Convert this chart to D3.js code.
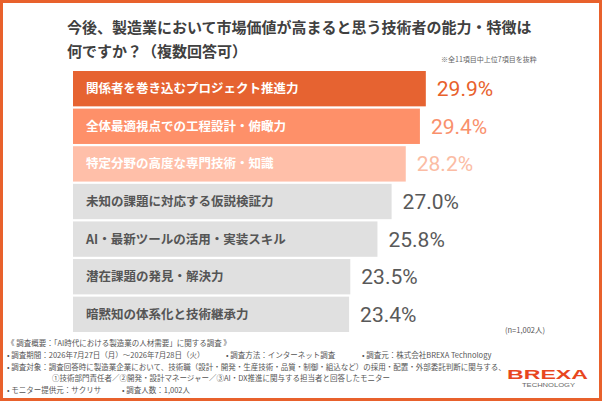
<!DOCTYPE html>
<html>
<head>
<meta charset="utf-8">
<script src="https://cdn.jsdelivr.net/npm/d3@7"></script>
<style>
  body { margin: 0; background: #fff; }
  svg { display: block; }
  .jp { font-family: "Noto Sans CJK JP", "Noto Sans", sans-serif; }
  .num { font-family: Roboto, "Noto Sans", sans-serif; }
</style>
</head>
<body>
<div id="chart"></div>
<script>
var width = 602;
var height = 401;

// data
var categories = [
    "関係者を巻き込むプロジェクト推進力",
    "全体最適視点での工程設計・俯瞰力",
    "特定分野の高度な専門技術・知識",
    "未知の課題に対応する仮説検証力",
    "AI・最新ツールの活用・実装スキル",
    "潜在課題の発見・解決力",
    "暗黙知の体系化と技術継承力"
];
var values = [29.9, 29.4, 28.2, 27.0, 25.8, 23.5, 23.4];
var barColors = ["#e66331", "#fe9069", "#ffbfa9", "#e0e0e0", "#e0e0e0", "#e0e0e0", "#e0e0e0"];
var labelColors = ["#e8612c", "#f9906c", "#fbbca4", "#595959", "#595959", "#595959", "#595959"];
var textColors = ["#fff", "#fff", "#fff", "#555", "#555", "#555", "#555"];

var titleLines = [
    "今後、製造業において市場価値が高まると思う技術者の能力・特徴は",
    "何ですか？（複数回答可）"
];
var noteText = "※全11項目中上位7項目を抜粋";
var nText = "(n=1,002人)";
var footerLines = [
    { x: 7, text: "《 調査概要：「AI時代における製造業の人材需要」に関する調査 》" },
    { x: 7, text: "• 調査期間：2026年7月27日（月）～2026年7月28日（火）" },
    { x: 7, text: "• 調査対象：調査回答時に製造業企業において、技術職（設計・開発・生産技術・品質・制御・組込など）の採用・配置・外部委託判断に関与する、" },
    { x: 52, text: "①技術部門責任者／②開発・設計マネージャー／③AI・DX推進に関与する担当者と回答したモニター" },
    { x: 7, text: "• モニター提供元：サクリサ" }
];
var footerExtra = [
    { line: 1, x: 226, text: "• 調査方法：インターネット調査" },
    { line: 1, x: 362, text: "• 調査元：株式会社BREXA Technology" },
    { line: 4, x: 122, text: "• 調査人数：1,002人" }
];

var svg = d3.select("#chart")
    .append("svg")
    .attr("width", width)
    .attr("height", height);

svg.append("rect")
    .attr("x", 1.5)
    .attr("y", 1.5)
    .attr("width", width - 3)
    .attr("height", height - 3)
    .attr("fill", "#fff")
    .attr("stroke", "#e8612c")
    .attr("stroke-width", 3);

// title
svg.selectAll("text.title")
    .data(titleLines)
    .enter()
    .append("text")
    .attr("class", "title jp")
    .attr("x", 67)
    .attr("y", function(d, i) { return 32.5 + i * 24.5; })
    .attr("font-size", 15)
    .attr("font-weight", "bold")
    .attr("fill", "#404040")
    .text(function(d) { return d; });

svg.append("text")
    .attr("class", "jp")
    .attr("x", 441)
    .attr("y", 61.5)
    .attr("font-size", 7)
    .attr("fill", "#666")
    .text(noteText);

var xScale = d3.scaleLinear()
    .domain([0, 30])
    .range([0, 354]);

var yScale = d3.scaleBand()
    .domain(categories)
    .range([71, 332])
    .paddingInner(0.06);

var left = 73;

var rows = svg.selectAll("g.row")
    .data(categories)
    .enter()
    .append("g")
    .attr("class", "row");

rows.append("rect")
    .attr("x", left)
    .attr("y", function(d) { return yScale(d); })
    .attr("width", function(d, i) { return xScale(values[i]); })
    .attr("height", yScale.bandwidth())
    .attr("fill", function(d, i) { return barColors[i]; });

rows.append("text")
    .attr("class", "jp")
    .attr("x", left + 13)
    .attr("y", function(d) { return yScale(d) + yScale.bandwidth() / 2; })
    .attr("dy", "0.36em")
    .attr("font-size", 12.5)
    .attr("font-weight", "bold")
    .attr("fill", function(d, i) { return textColors[i]; })
    .text(function(d) { return d; });

rows.append("text")
    .attr("class", "num")
    .attr("x", function(d, i) { return left + xScale(values[i]) + 11; })
    .attr("y", function(d) { return yScale(d) + yScale.bandwidth() / 2 + 7.5; })
    .attr("font-size", 21)
    .attr("font-weight", 400)
    .attr("fill", function(d, i) { return labelColors[i]; })
    .text(function(d, i) { return values[i].toFixed(1) + "%"; });

svg.append("text")
    .attr("class", "jp")
    .attr("x", 505)
    .attr("y", 333)
    .attr("font-size", 7.5)
    .attr("fill", "#555")
    .text(nText);

// footer
var footerY = [345.5, 358, 369.5, 381, 393];

svg.selectAll("text.foot")
    .data(footerLines)
    .enter()
    .append("text")
    .attr("class", "foot jp")
    .attr("x", function(d) { return d.x; })
    .attr("y", function(d, i) { return footerY[i]; })
    .attr("font-size", 7.5)
    .attr("fill", "#555")
    .text(function(d) { return d.text; });

svg.selectAll("text.footx")
    .data(footerExtra)
    .enter()
    .append("text")
    .attr("class", "footx jp")
    .attr("x", function(d) { return d.x; })
    .attr("y", function(d) { return footerY[d.line]; })
    .attr("font-size", 7.5)
    .attr("fill", "#555")
    .text(function(d) { return d.text; });

// logo
svg.append("text")
    .attr("x", 507)
    .attr("y", 378.5)
    .attr("font-family", "Liberation Sans, sans-serif")
    .attr("font-size", 13.5)
    .attr("font-weight", "bold")
    .attr("fill", "#e8461e")
    .attr("textLength", 81)
    .attr("lengthAdjust", "spacingAndGlyphs")
    .text("BREXA");

svg.append("text")
    .attr("x", 522)
    .attr("y", 386.5)
    .attr("font-family", "Liberation Sans, sans-serif")
    .attr("font-size", 6)
    .attr("fill", "#666")
    .attr("textLength", 53)
    .attr("lengthAdjust", "spacingAndGlyphs")
    .text("TECHNOLOGY");
</script>
</body>
</html>
